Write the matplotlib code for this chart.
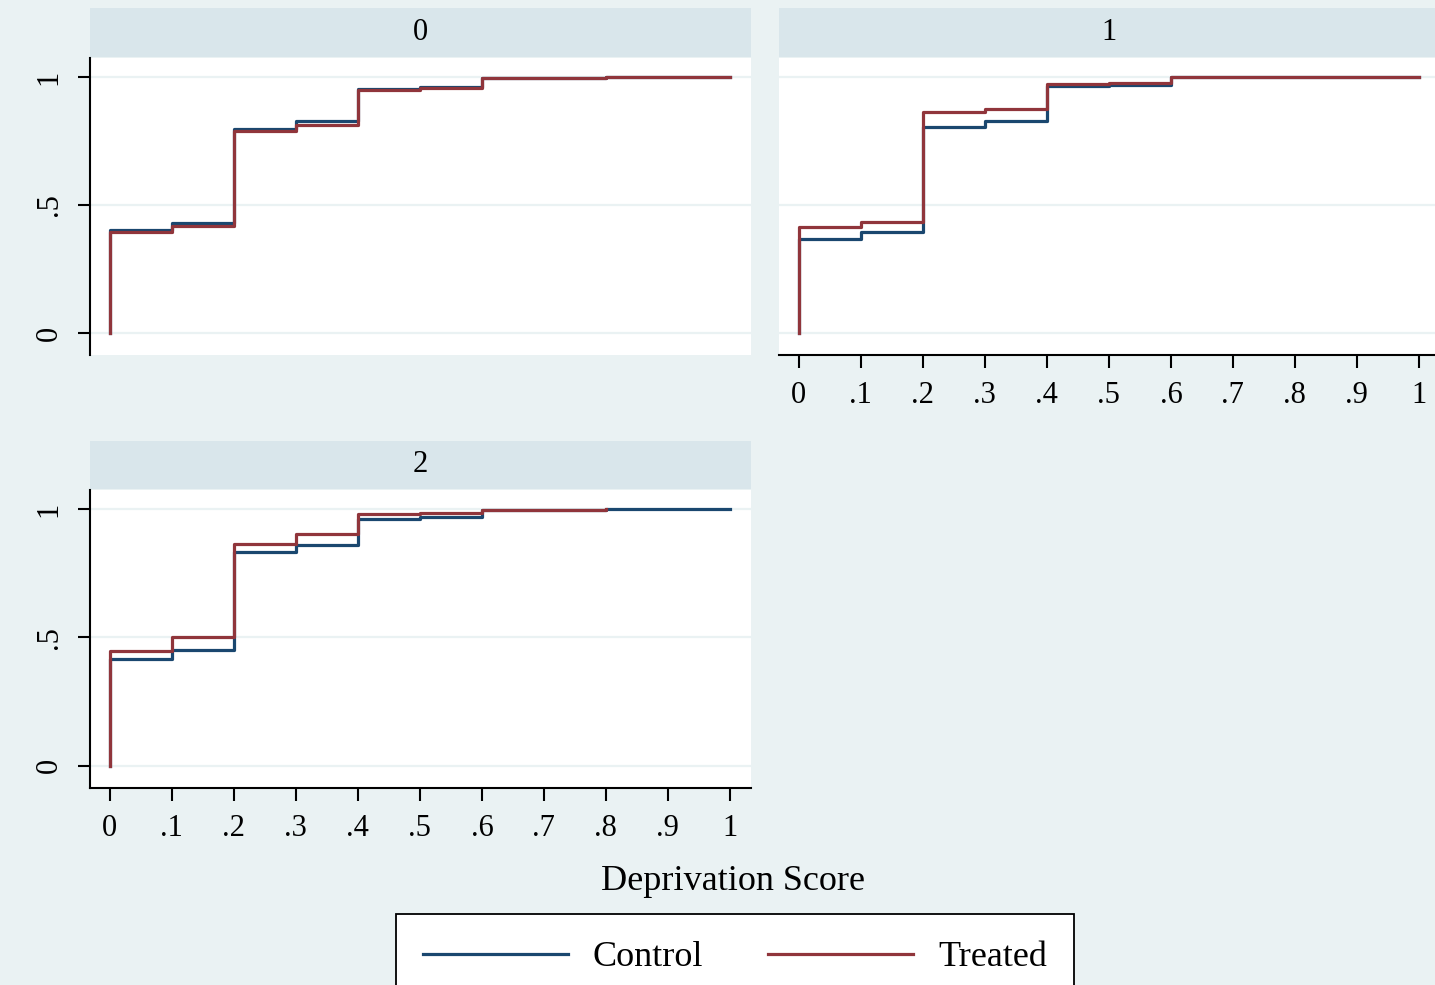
import matplotlib
matplotlib.use("Agg")
import matplotlib.pyplot as plt
from matplotlib.lines import Line2D

# ---------------- data ----------------
panels = ["0", "1", "2"]
x_ticks = [0, 0.1, 0.2, 0.3, 0.4, 0.5, 0.6, 0.7, 0.8, 0.9, 1.0]
x_tick_labels = ["0", ".1", ".2", ".3", ".4", ".5", ".6", ".7", ".8", ".9", "1"]
y_ticks = [0, 0.5, 1]
y_tick_labels = ["0", ".5", "1"]

x_ctrl = [0, 0.1, 0.2, 0.3, 0.4, 0.5, 0.6, 0.8, 1.0]
x_trt_0 = [0, 0.1, 0.2, 0.3, 0.4, 0.5, 0.6, 0.8, 1.0]
x_trt_1 = [0, 0.1, 0.2, 0.3, 0.4, 0.5, 0.6, 0.8, 1.0]
x_trt_2 = [0, 0.1, 0.2, 0.3, 0.4, 0.5, 0.6, 0.8]

ctrl_0 = [0.403, 0.431, 0.798, 0.826, 0.954, 0.962, 0.996, 1.0, 1.0]
trt_0 = [0.393, 0.417, 0.789, 0.812, 0.949, 0.958, 0.994, 1.0, 1.0]
ctrl_1 = [0.368, 0.393, 0.804, 0.826, 0.965, 0.967, 0.998, 1.0, 1.0]
trt_1 = [0.413, 0.433, 0.862, 0.875, 0.973, 0.977, 0.998, 1.0, 1.0]
ctrl_2 = [0.417, 0.450, 0.834, 0.859, 0.963, 0.968, 0.997, 0.999, 1.0]
trt_2 = [0.446, 0.502, 0.862, 0.903, 0.981, 0.985, 0.998, 1.0]

series = {
    "0": ((x_ctrl, ctrl_0), (x_trt_0, trt_0)),
    "1": ((x_ctrl, ctrl_1), (x_trt_1, trt_1)),
    "2": ((x_ctrl, ctrl_2), (x_trt_2, trt_2)),
}
labels = ["Control", "Treated"]

# ---------------- style ----------------
BG = "#EAF2F3"
STRIP = "#D9E6EB"
GRID = "#EAF2F3"
C_CTRL = "#1a476f"
C_TRT = "#90353b"
FONT = "Liberation Serif"
plt.rcParams["font.family"] = [FONT, "DejaVu Serif"]

W, H = 1435, 985
fig = plt.figure(figsize=(W / 100, H / 100), dpi=100, facecolor=BG)


def ax_at(l, t, r, b, **kw):
    return fig.add_axes([l / W, 1 - b / H, (r - l) / W, (b - t) / H], **kw)


layout = {
    "0": dict(strip=(90, 8, 751, 57), plot=(90, 58, 751, 355), left=True, bottom=False),
    "1": dict(strip=(779, 8, 1440, 57), plot=(779, 58, 1440, 355), left=False, bottom=True),
    "2": dict(strip=(90, 441, 751, 489), plot=(90, 490, 751, 788), left=True, bottom=True),
}

for p in panels:
    L = layout[p]
    sax = ax_at(*L["strip"])
    sax.set_facecolor(STRIP)
    sax.set_xticks([]); sax.set_yticks([])
    for s in sax.spines.values():
        s.set_visible(False)
    sax.text(0.5, 0.5, p, ha="center", va="center", fontsize=22, transform=sax.transAxes)

    ax = ax_at(*L["plot"])
    ax.set_facecolor("white")
    ax.set_xlim(-0.032, 1.034)
    ax.set_ylim(-0.086, 1.074)
    for yv in y_ticks:
        ax.axhline(yv, color=GRID, lw=1.6, zorder=1)
    (xc, yc), (xt, yt) = series[p]
    ax.step([0] + xc, [0] + yc, where="post", color=C_CTRL, lw=2.3, zorder=3)
    ax.step([0] + xt, [0] + yt, where="post", color=C_TRT, lw=2.3, zorder=4)

    for s in ["top", "right"]:
        ax.spines[s].set_visible(False)
    ax.spines["left"].set_visible(L["left"])
    ax.spines["bottom"].set_visible(L["bottom"])
    ax.spines["left"].set_linewidth(1.5)
    ax.spines["bottom"].set_linewidth(1.5)

    if L["left"]:
        ax.set_yticks(y_ticks)
        ax.set_yticklabels(y_tick_labels, rotation=90, va="center", fontsize=22)
        ax.tick_params(axis="y", length=9, width=1.5, pad=10)
    else:
        ax.set_yticks([])
    if L["bottom"]:
        ax.set_xticks(x_ticks)
        ax.set_xticklabels(x_tick_labels, fontsize=22)
        ax.tick_params(axis="x", length=9, width=1.5, pad=10)
    else:
        ax.set_xticks([])

fig.text(733 / W, 1 - 882 / H, "Deprivation Score", ha="center", va="center", fontsize=26)

handles = [Line2D([], [], color=C_CTRL, lw=2.3), Line2D([], [], color=C_TRT, lw=2.3)]
leg = fig.legend(handles, labels, loc="upper center", bbox_to_anchor=(735 / W, 1 - 914 / H),
                 ncol=2, fontsize=26, frameon=True, fancybox=False, edgecolor="black",
                 facecolor="white", framealpha=1, handlelength=4.0, handletextpad=0.7,
                 columnspacing=1.8, borderpad=0.75, borderaxespad=0)
leg.get_frame().set_linewidth(1.3)

fig.savefig("out.png", dpi=100, facecolor=BG)
